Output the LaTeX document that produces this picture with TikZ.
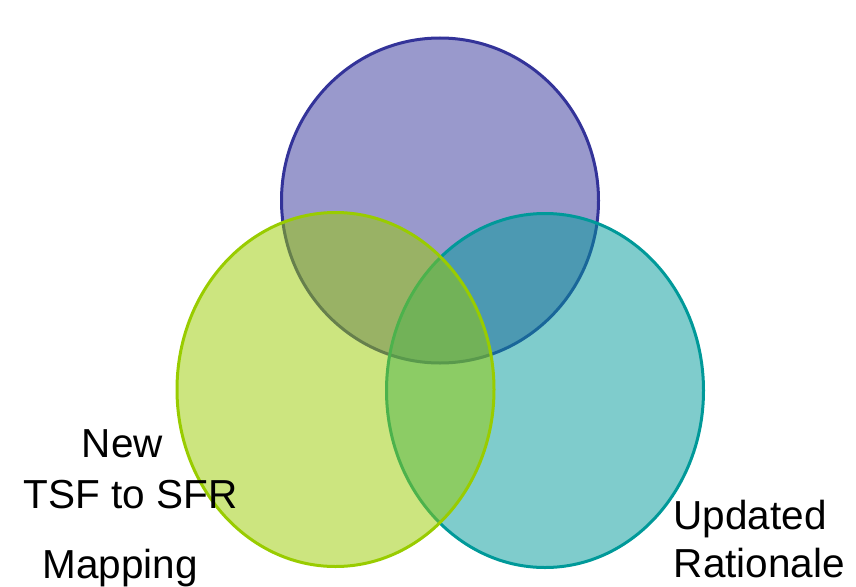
\documentclass[tikz,border=0pt]{standalone}
\usepackage{fontspec}
\setmainfont{Liberation Sans}
\definecolor{setblue}{RGB}{51,51,153}
\definecolor{setgreen}{RGB}{153,204,0}
\definecolor{setteal}{RGB}{0,153,153}
\tikzset{
  setshape/.style={line width=3pt, fill opacity=0.5, draw opacity=1},
  lbl/.style={font=\fontsize{40.5}{42}\selectfont, text=black, inner sep=0pt, anchor=base}
}
\begin{document}
\begin{tikzpicture}[x=1pt,y=-1pt]
  \useasboundingbox (0,0) rectangle (856,586);
  % three overlapping sets, bottom layer first
  \draw[setshape, draw=setblue, fill=setblue]   (440,200.5) ellipse [x radius=158.5, y radius=162.5];
  \draw[setshape, draw=setteal, fill=setteal]   (545,390.5) ellipse [x radius=158.5, y radius=177];
  \draw[setshape, draw=setgreen, fill=setgreen] (335.5,389.5) ellipse [x radius=158.5, y radius=177];
  % labels
  \node[lbl] (new)     at (122.5,457) {New};
  \node[lbl] (tsf)     at (130.5,508) {TSF to SFR};
  \node[lbl] (mapping) at (120,578)   {Mapping};
  \node[lbl] (updated) at (750,529)   {Updated};
  \node[lbl] (ration)  at (759.5,577) {Rationale};
\end{tikzpicture}
\end{document}
